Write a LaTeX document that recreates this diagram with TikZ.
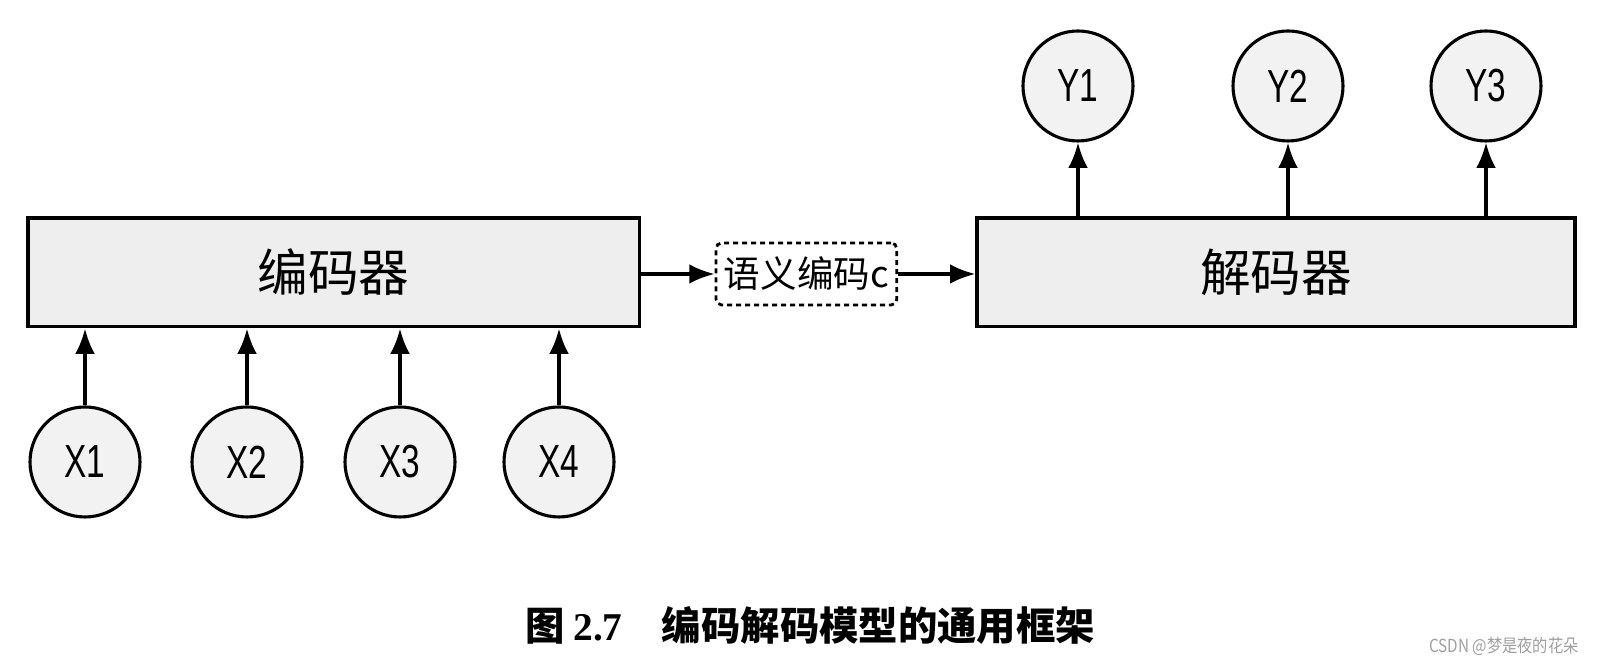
\documentclass[tikz,border=0pt]{standalone}
\usepackage{fontspec}
\setmainfont{Noto Sans CJK SC}
\newfontfamily\narrowsf[FakeStretch=0.72]{Liberation Sans}
\newfontfamily\capserif{Liberation Serif}
\newfontfamily\wmfont[FakeStretch=0.85]{Noto Sans CJK SC}
\usetikzlibrary{arrows.meta,positioning}
\tikzset{
  blk/.style={draw,rectangle,line width=1.15pt,fill=gray!13,inner sep=0pt,minimum height=1.36cm,font=\fontsize{18}{20}\selectfont},
  encblk/.style={blk,minimum width=7.64cm},
  decblk/.style={blk,minimum width=7.475cm},
  ctxblk/.style={draw,rectangle,line width=1pt,rounded corners=2pt,dash pattern=on 1.8pt off 1.4pt,
    minimum width=2.26cm,minimum height=0.775cm,inner sep=0pt,font=\fontsize{13}{15}\selectfont},
  tok/.style={draw,circle,line width=1.1pt,fill=gray!10,minimum size=1.375cm,inner sep=0pt,font=\narrowsf\fontsize{16.5}{18}\selectfont},
  arr/.style={-{Latex[length=9pt,width=7pt]},line width=1.15pt},
  lbl/.style={font=\fontsize{14}{16}\selectfont\bfseries}
}

\begin{document}
\begin{tikzpicture}
  \useasboundingbox (0,0) rectangle (20.025,8.325);
  \node[encblk] (enc) at (4.169,4.919) {编码器};
  \node[ctxblk] (ctx) at (10.08,4.9) {语义编码c};
  \node[decblk] (dec) at (15.95,4.919) {解码器};

  \node[tok] (x1) at (1.0625,2.55) {X1};
  \node[tok] (x2) at (3.0875,2.55) {X2};
  \node[tok] (x3) at (5.0,2.55) {X3};
  \node[tok] (x4) at (6.9875,2.55) {X4};

  \node[tok] (y1) at (13.475,7.25) {Y1};
  \node[tok] (y2) at (16.1,7.25) {Y2};
  \node[tok] (y3) at (18.575,7.25) {Y3};

  \draw[arr] (x1) -- (x1 |- enc.south);
  \draw[arr] (x2) -- (x2 |- enc.south);
  \draw[arr] (x3) -- (x3 |- enc.south);
  \draw[arr] (x4) -- (x4 |- enc.south);
  \draw[arr] (enc.east |- ctx) -- (ctx);
  \draw[arr] (ctx) -- (dec.west |- ctx);
  \draw[arr] (dec.north -| y1) -- (y1);
  \draw[arr] (dec.north -| y2) -- (y2);
  \draw[arr] (dec.north -| y3) -- (y3);

  \node[lbl] (cap) at (10.125,0.5125) {图 {\capserif 2.7}\quad 编码解码模型的通用框架};
  \node[anchor=east,text=gray!75,font=\wmfont\fontsize{6.4}{7}\selectfont] (wm) at (19.86,0.25) {CSDN @梦是夜的花朵};
\end{tikzpicture}
\end{document}
